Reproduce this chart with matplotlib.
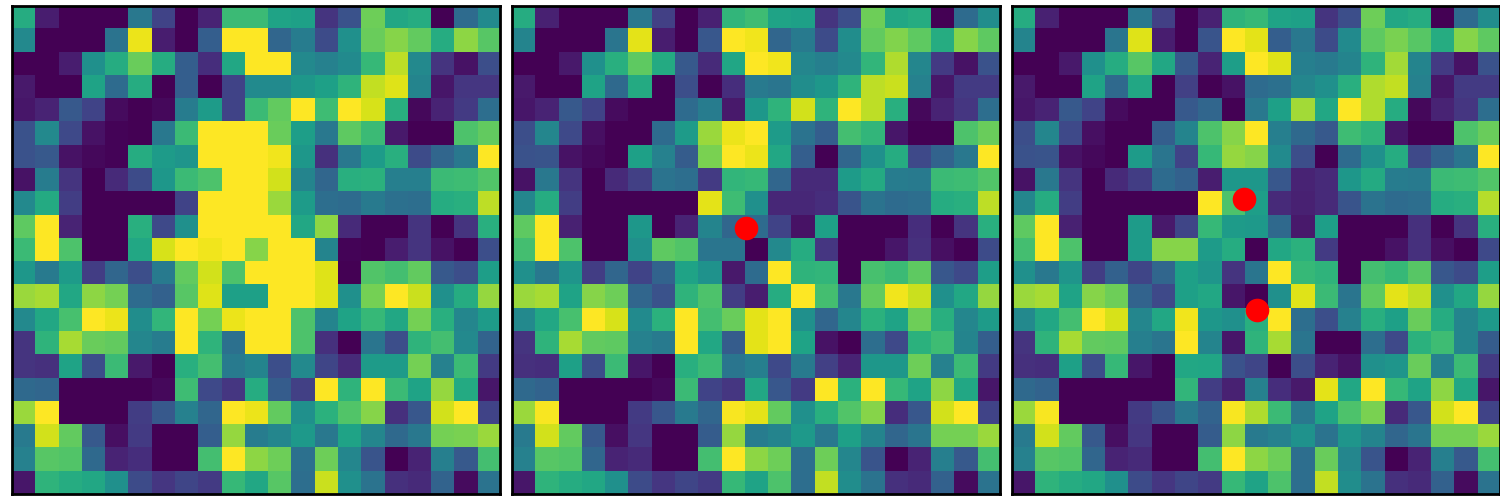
from matplotlib import pyplot

left_grid = [
    [0.62, 0.08, 0, 0, 0, 0.40, 0.20, 0, 0.10, 0.68, 0.68, 0.58, 0.57, 0.15, 0.25, 0.78, 0.60, 0.62, 0, 0.35, 0.48],
    [0.47, 0, 0, 0, 0.38, 0.97, 0.08, 0, 0.30, 1, 1, 0.33, 0.42, 0.23, 0.50, 0.77, 0.82, 0.76, 0.62, 0.83, 0.74],
    [0, 0, 0.08, 0.50, 0.62, 0.77, 0.62, 0.30, 0.13, 0.60, 1, 1, 0.47, 0.44, 0.48, 0.67, 0.90, 0.47, 0.15, 0.05, 0.24],
    [0.07, 0, 0, 0.58, 0.35, 0.62, 0, 0.30, 0, 0.20, 0.48, 0.48, 0.53, 0.57, 0.65, 0.91, 0.95, 0.45, 0.06, 0.16, 0.16],
    [0.06, 0.10, 0.28, 0.20, 0.03, 0, 0.02, 0.42, 0.55, 0.20, 0.68, 0.76, 1, 0.69, 1, 0.94, 0.63, 0.02, 0.10, 0.17, 0.36],
    [0.25, 0.47, 0.22, 0.05, 0.01, 0, 0.40, 0.68, 1, 1, 1, 0.77, 0.56, 0.40, 0.75, 0.68, 0.07, 0, 0, 0.72, 0.76],
    [0.25, 0.28, 0.05, 0.02, 0.01, 0.62, 0.55, 0.52, 1, 1, 1, 0.98, 0.53, 0.14, 0.40, 0.55, 0.63, 0.23, 0.33, 0.40, 1],
    [0.05, 0.42, 0.15, 0, 0.12, 0.23, 0.53, 0.68, 0.72, 1, 1, 0.93, 0.45, 0.33, 0.63, 0.64, 0.43, 0.43, 0.68, 0.69, 0.73],
    [0.47, 0.61, 0.18, 0, 0, 0, 0, 0.20, 1, 1, 1, 0.85, 0.55, 0.36, 0.35, 0.41, 0.37, 0.36, 0.62, 0.63, 0.90],
    [0.75, 1, 0.10, 0, 0, 0.63, 0.22, 0.50, 1, 1, 1, 1, 0.60, 0.83, 0.12, 0, 0, 0.15, 0, 0.15, 0.63],
    [0.68, 1, 0.72, 0, 0, 0.60, 0.94, 1, 0.98, 1, 0.82, 1, 1, 0.45, 0.01, 0, 0.08, 0.15, 0.05, 0, 0.24],
    [0.53, 0.41, 0.55, 0.18, 0.33, 0.24, 0.41, 0.76, 0.93, 0.72, 1, 1, 1, 0.95, 0, 0.73, 0.70, 0.76, 0.28, 0.24, 0.56],
    [0.85, 0.87, 0.60, 0.83, 0.79, 0.35, 0.31, 0.74, 0.95, 0.57, 0.57, 1, 1, 0.95, 0.50, 0.79, 1, 0.92, 0.50, 0.62, 0.84],
    [0.47, 0.60, 0.71, 1, 0.97, 0.49, 0.66, 1, 0.79, 0.97, 1, 1, 0.72, 0.45, 0.58, 0.67, 0.60, 0.79, 0.63, 0.46, 0.55],
    [0.15, 0.65, 0.87, 0.77, 0.76, 0.46, 0.42, 1, 0.65, 0.37, 1, 1, 0.72, 0.14, 0, 0.39, 0.24, 0.65, 0.70, 0.47, 0.32],
    [0.15, 0.14, 0.58, 0.24, 0.68, 0.07, 0, 0.63, 0.70, 0.41, 0.45, 0.24, 0.47, 0.21, 0.12, 0.55, 0.55, 0.79, 0.44, 0.68, 0.17],
    [0.34, 0.33, 0, 0, 0, 0, 0.02, 0.69, 0.22, 0.16, 0.62, 0.29, 0.19, 1, 0.65, 1, 0.68, 0.58, 0.84, 0.61, 0.06],
    [0.85, 1, 0, 0, 0, 0.18, 0.28, 0.44, 0.33, 1, 0.97, 0.76, 0.50, 0.64, 0.73, 0.82, 0.14, 0.27, 0.93, 1, 0.20],
    [0.41, 0.93, 0.76, 0.28, 0.04, 0.17, 0, 0, 0.30, 0.84, 0.42, 0.46, 0.54, 0.40, 0.58, 0.46, 0.34, 0.40, 0.79, 0.80, 0.85],
    [0.44, 0.74, 0.73, 0.34, 0.10, 0.13, 0, 0, 0.70, 1, 0.83, 0.78, 0.37, 0.78, 0.46, 0.26, 0, 0.10, 0.43, 0.28, 0.70],
    [0.06, 0.65, 0.62, 0.60, 0.50, 0.23, 0.16, 0.21, 0.17, 0.67, 0.60, 0.74, 0.36, 0.92, 0.50, 0.38, 0.14, 0.12, 0.32, 0.03, 0.38],
]
middle_grid = [
    [0.62, 0.09, 0, 0, 0, 0.40, 0.19, 0, 0.09, 0.66, 0.69, 0.58, 0.57, 0.15, 0.24, 0.78, 0.60, 0.62, 0, 0.35, 0.49],
    [0.45, 0, 0, 0, 0.39, 0.96, 0.08, 0, 0.27, 1, 0.98, 0.33, 0.41, 0.23, 0.49, 0.76, 0.81, 0.75, 0.62, 0.82, 0.75],
    [0, 0, 0.07, 0.50, 0.63, 0.75, 0.61, 0.28, 0.12, 0.59, 1, 0.98, 0.46, 0.43, 0.47, 0.66, 0.88, 0.46, 0.17, 0.05, 0.25],
    [0.07, 0, 0, 0.58, 0.34, 0.61, 0, 0.24, 0, 0.13, 0.41, 0.39, 0.49, 0.53, 0.65, 0.90, 0.92, 0.44, 0.06, 0.17, 0.17],
    [0.06, 0.10, 0.28, 0.20, 0.03, 0, 0, 0.35, 0.42, 0.07, 0.53, 0.65, 0.93, 0.65, 1, 0.90, 0.63, 0.02, 0.10, 0.16, 0.36],
    [0.24, 0.46, 0.22, 0.04, 0, 0, 0.35, 0.55, 0.85, 0.97, 1, 0.55, 0.38, 0.30, 0.70, 0.66, 0.06, 0, 0, 0.72, 0.77],
    [0.25, 0.26, 0.05, 0.02, 0, 0.57, 0.44, 0.29, 0.80, 1, 0.97, 0.60, 0.30, 0, 0.33, 0.50, 0.62, 0.22, 0.32, 0.40, 1],
    [0.05, 0.40, 0.15, 0, 0.12, 0.19, 0.38, 0.36, 0.17, 0.66, 0.67, 0.33, 0.12, 0.12, 0.55, 0.61, 0.42, 0.41, 0.68, 0.69, 0.73],
    [0.46, 0.62, 0.18, 0, 0, 0, 0, 0, 0.96, 0.69, 0.50, 0.11, 0.11, 0.13, 0.26, 0.38, 0.35, 0.36, 0.62, 0.63, 0.90],
    [0.75, 1, 0.09, 0, 0, 0.53, 0, 0.10, 0.45, 0.33, 0.35, 0.20, 0.05, 0.57, 0, 0, 0, 0.13, 0, 0.15, 0.63],
    [0.70, 1, 0.72, 0, 0, 0.50, 0.75, 0.73, 0.39, 0.39, 0, 0.47, 0.62, 0.16, 0, 0, 0.06, 0.14, 0.04, 0, 0.23],
    [0.50, 0.40, 0.52, 0.18, 0.33, 0.20, 0.32, 0.58, 0.51, 0.07, 0.35, 1, 0.65, 0.66, 0, 0.71, 0.68, 0.75, 0.27, 0.22, 0.56],
    [0.85, 0.87, 0.58, 0.82, 0.78, 0.33, 0.25, 0.65, 0.72, 0.18, 0.08, 0.62, 1, 0.70, 0.40, 0.76, 0.98, 0.92, 0.50, 0.60, 0.84],
    [0.47, 0.60, 0.71, 1, 0.94, 0.48, 0.64, 1, 0.70, 0.77, 0.96, 1, 0.50, 0.33, 0.46, 0.64, 0.58, 0.78, 0.63, 0.46, 0.55],
    [0.15, 0.65, 0.87, 0.76, 0.75, 0.44, 0.41, 1, 0.60, 0.29, 0.96, 1, 0.58, 0.05, 0, 0.36, 0.22, 0.64, 0.69, 0.45, 0.30],
    [0.14, 0.13, 0.57, 0.24, 0.68, 0.06, 0, 0.63, 0.68, 0.39, 0.43, 0.22, 0.41, 0.19, 0.10, 0.53, 0.53, 0.78, 0.44, 0.68, 0.17],
    [0.34, 0.32, 0, 0, 0, 0, 0.02, 0.68, 0.20, 0.16, 0.60, 0.27, 0.17, 1, 0.64, 1, 0.67, 0.58, 0.83, 0.60, 0.06],
    [0.85, 0.99, 0, 0, 0, 0.17, 0.27, 0.41, 0.33, 0.99, 0.96, 0.76, 0.50, 0.63, 0.73, 0.82, 0.13, 0.27, 0.93, 1, 0.20],
    [0.41, 0.93, 0.76, 0.28, 0.04, 0.16, 0, 0, 0.29, 0.84, 0.42, 0.45, 0.54, 0.40, 0.57, 0.45, 0.33, 0.39, 0.79, 0.79, 0.85],
    [0.44, 0.74, 0.73, 0.33, 0.10, 0.12, 0, 0, 0.70, 1, 0.83, 0.78, 0.36, 0.78, 0.46, 0.26, 0, 0.10, 0.43, 0.28, 0.70],
    [0.06, 0.65, 0.62, 0.60, 0.50, 0.23, 0.16, 0.21, 0.17, 0.67, 0.58, 0.72, 0.36, 0.91, 0.49, 0.38, 0.14, 0.12, 0.31, 0.03, 0.38],
]
right_grid = [
    [0.62, 0.09, 0, 0, 0, 0.40, 0.19, 0, 0.09, 0.65, 0.67, 0.58, 0.57, 0.15, 0.24, 0.78, 0.60, 0.62, 0, 0.35, 0.49],
    [0.45, 0, 0, 0, 0.39, 0.95, 0.08, 0, 0.26, 1, 0.96, 0.30, 0.40, 0.23, 0.48, 0.75, 0.80, 0.74, 0.62, 0.82, 0.75],
    [0, 0, 0.07, 0.50, 0.62, 0.74, 0.60, 0.28, 0.10, 0.56, 1, 0.95, 0.43, 0.41, 0.45, 0.65, 0.86, 0.45, 0.17, 0.05, 0.25],
    [0.07, 0, 0, 0.58, 0.34, 0.60, 0, 0.19, 0, 0.05, 0.35, 0.37, 0.46, 0.50, 0.63, 0.88, 0.91, 0.44, 0.06, 0.17, 0.17],
    [0.06, 0.10, 0.28, 0.20, 0.03, 0, 0, 0.28, 0.33, 0, 0.40, 0.57, 0.86, 0.60, 1, 0.88, 0.62, 0.02, 0.10, 0.16, 0.36],
    [0.24, 0.46, 0.22, 0.04, 0, 0, 0.30, 0.45, 0.72, 0.82, 1, 0.43, 0.34, 0.28, 0.69, 0.65, 0.06, 0, 0, 0.72, 0.77],
    [0.25, 0.26, 0.05, 0.02, 0, 0.55, 0.39, 0.20, 0.67, 0.84, 0.82, 0.48, 0.24, 0, 0.35, 0.50, 0.62, 0.22, 0.32, 0.39, 1],
    [0.05, 0.40, 0.15, 0, 0.12, 0.18, 0.35, 0.31, 0.08, 0.53, 0.53, 0.27, 0.10, 0.12, 0.53, 0.61, 0.42, 0.41, 0.68, 0.69, 0.73],
    [0.46, 0.62, 0.18, 0, 0, 0, 0, 0, 1, 0.72, 0.56, 0.12, 0.09, 0.12, 0.26, 0.38, 0.35, 0.36, 0.62, 0.63, 0.89],
    [0.75, 1, 0.09, 0, 0, 0.55, 0.07, 0.21, 0.67, 0.55, 0.54, 0.34, 0.07, 0.56, 0, 0, 0, 0.14, 0, 0.15, 0.63],
    [0.70, 1, 0.72, 0, 0, 0.55, 0.82, 0.82, 0.55, 0.62, 0, 0.60, 0.64, 0.17, 0, 0, 0.05, 0.14, 0.04, 0, 0.22],
    [0.50, 0.40, 0.52, 0.18, 0.31, 0.21, 0.33, 0.57, 0.52, 0.15, 0.39, 1, 0.67, 0.65, 0, 0.70, 0.67, 0.74, 0.27, 0.23, 0.56],
    [0.85, 0.87, 0.58, 0.82, 0.78, 0.32, 0.22, 0.57, 0.60, 0.06, 0, 0.50, 0.95, 0.68, 0.39, 0.75, 0.96, 0.91, 0.50, 0.60, 0.84],
    [0.47, 0.60, 0.70, 1, 0.94, 0.46, 0.60, 0.98, 0.53, 0.50, 0.63, 1, 0.36, 0.24, 0.44, 0.63, 0.57, 0.77, 0.62, 0.45, 0.54],
    [0.15, 0.65, 0.87, 0.76, 0.75, 0.43, 0.39, 1, 0.45, 0.06, 0.65, 0.87, 0.39, 0, 0, 0.36, 0.22, 0.64, 0.69, 0.45, 0.29],
    [0.14, 0.13, 0.57, 0.24, 0.67, 0.06, 0, 0.60, 0.59, 0.25, 0.21, 0, 0.24, 0.10, 0.05, 0.50, 0.52, 0.77, 0.44, 0.68, 0.17],
    [0.34, 0.32, 0, 0, 0, 0, 0, 0.66, 0.18, 0.09, 0.44, 0.13, 0.07, 0.96, 0.60, 1, 0.67, 0.58, 0.83, 0.60, 0.06],
    [0.85, 0.99, 0, 0, 0, 0.17, 0.26, 0.40, 0.32, 0.99, 0.88, 0.68, 0.40, 0.58, 0.72, 0.80, 0.12, 0.27, 0.93, 1, 0.20],
    [0.41, 0.93, 0.76, 0.28, 0.04, 0.16, 0, 0, 0.29, 0.83, 0.41, 0.44, 0.51, 0.38, 0.52, 0.45, 0.33, 0.39, 0.79, 0.79, 0.85],
    [0.44, 0.74, 0.73, 0.33, 0.10, 0.12, 0, 0, 0.70, 1, 0.83, 0.78, 0.36, 0.77, 0.46, 0.26, 0, 0.10, 0.43, 0.28, 0.70],
    [0.06, 0.65, 0.62, 0.60, 0.50, 0.23, 0.16, 0.21, 0.17, 0.67, 0.58, 0.72, 0.36, 0.91, 0.49, 0.38, 0.14, 0.12, 0.31, 0.03, 0.38],
]
middle_dots_x = [9.58]
middle_dots_y = [9.07]
right_dots_x = [9.49, 10.03]
right_dots_y = [7.82, 12.59]

panels = [
    (left_grid, [], [], 12.1),
    (middle_grid, middle_dots_x, middle_dots_y, 512.1),
    (right_grid, right_dots_x, right_dots_y, 1012.1),
]

fig = pyplot.figure(
    figsize=(15, 5),
    dpi=100,
)
for grid, dots_x, dots_y, left_px in panels:
    ax = fig.add_axes(
        [
            left_px/1500,
            (500-494)/500,
            488.2/1500,
            488.2/500,
        ]
    )
    ax.imshow(
        grid,
        cmap="viridis",
        vmin=0,
        vmax=1,
        aspect="auto",
        interpolation="nearest",
    )
    ax.plot(
        dots_x,
        dots_y,
        "o",
        color="red",
        markersize=17,
        markeredgewidth=0,
    )
    ax.set_xticks([])
    ax.set_yticks([])
    for spine in ax.spines.values():
        spine.set_linewidth(2)
fig.savefig("out.png")
